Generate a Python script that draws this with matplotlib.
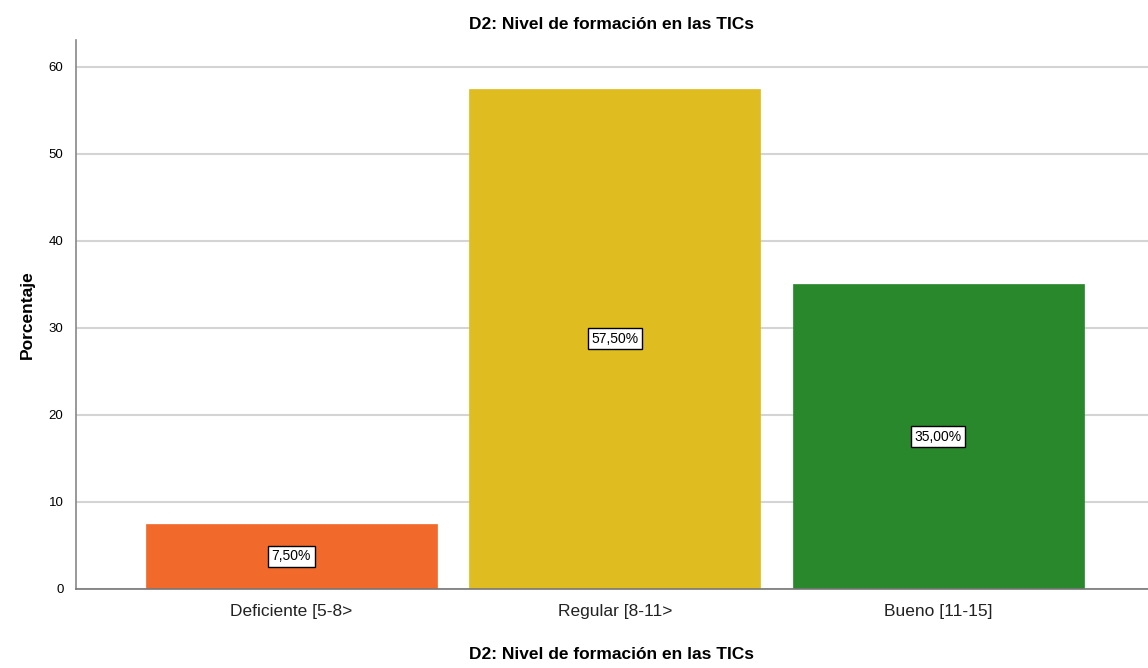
import matplotlib.pyplot as plt

categories = ["Deficiente [5-8>", "Regular [8-11>", "Bueno [11-15]"]
percentages = [7.5, 57.5, 35.0]
colors = ["#F26A2B", "#DFBC1F", "#2A882C"]
yticks = [0, 10, 20, 30, 40, 50, 60]

plt.rcParams['font.family'] = ['Liberation Sans', 'DejaVu Sans']

fig = plt.figure(figsize=(11.48, 6.68), dpi=100)
ax = fig.add_axes([0.0662, 0.1183, 0.9338, 0.8218])

x = range(len(categories))
bars = ax.bar(x, percentages, width=0.9, color=colors, zorder=2,
              edgecolor=colors, linewidth=0.5)

# value labels in boxed white tags at half bar height
for xi, val in zip(x, percentages):
    ax.text(xi, val / 2, f"{val:.2f}%".replace('.', ','), ha='center', va='center',
            fontsize=10, zorder=3,
            bbox=dict(boxstyle='square,pad=0.25', facecolor='white', edgecolor='black', linewidth=1))

ax.set_xlim(-0.666, 2.648)
ax.set_ylim(0, 63.1)
ax.set_yticks(yticks)
ax.set_xticks(list(x))
ax.set_xticklabels(categories, fontsize=12.5, color='#222222')
ax.tick_params(axis='y', length=0, labelsize=9.5, pad=9)
ax.tick_params(axis='x', length=0, pad=11)
ax.yaxis.grid(True, color='#d4d4d4', linewidth=1.5, zorder=0)
ax.set_axisbelow(True)

for side in ['top', 'right']:
    ax.spines[side].set_visible(False)
ax.spines['left'].set_color('#888888')
ax.spines['bottom'].set_color('#777777')
ax.spines['left'].set_linewidth(1.2)
ax.spines['bottom'].set_linewidth(1.2)

ax.set_title("D2: Nivel de formación en las TICs", fontsize=12.5, fontweight='bold', pad=8)
ax.set_xlabel("D2: Nivel de formación en las TICs", fontsize=12.5, fontweight='bold', labelpad=20)
ax.set_ylabel("Porcentaje", fontsize=12.5, fontweight='bold', labelpad=10)

fig.savefig("out.png", dpi=100)
